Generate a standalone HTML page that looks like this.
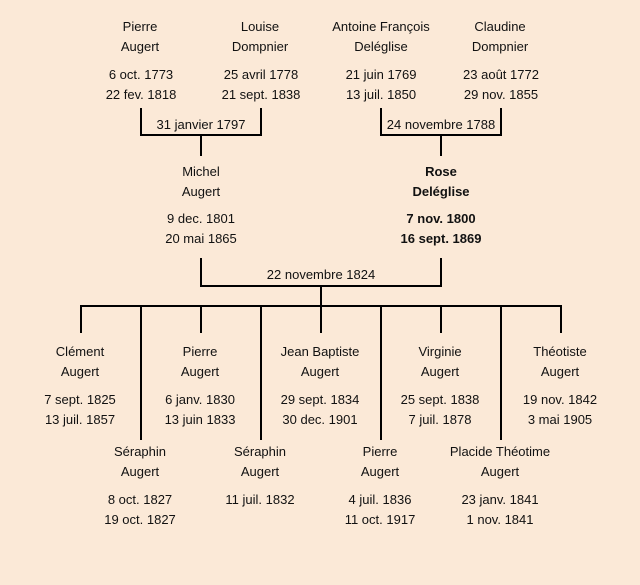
<!DOCTYPE html>
<html><head><meta charset="utf-8"><style>
body{margin:0;width:640px;height:585px;background:#fbe9d7;position:relative;overflow:hidden;font-family:"Comic Sans MS","Liberation Sans",sans-serif;font-size:13px;color:#111}
.t{position:absolute;transform:translateX(-50%);white-space:nowrap;line-height:20px;text-align:center}
.b{font-weight:bold}
svg{position:absolute;left:0;top:0}
</style></head><body>
<svg width="640" height="585"><g stroke="#000" stroke-width="2" fill="none">
<path d="M141 108V135H261V108M201 135V156"/>
<path d="M381 108V135H501V108M441 135V156"/>
<path d="M201 258V286H441V258M321 286V306M80 306H562"/>
<path d="M81 306V333M201 306V333M321 306V333M441 306V333M561 306V333"/>
<path d="M141 306V440M261 306V440M381 306V440M501 306V440"/>
</g></svg>
<div class="t" style="left:140px;top:17px">Pierre<br>Augert</div>
<div class="t" style="left:141px;top:65px">6 oct. 1773<br>22 fev. 1818</div>
<div class="t" style="left:260px;top:17px">Louise<br>Dompnier</div>
<div class="t" style="left:261px;top:65px">25 avril 1778<br>21 sept. 1838</div>
<div class="t" style="left:381px;top:17px">Antoine François<br>Deléglise</div>
<div class="t" style="left:381px;top:65px">21 juin 1769<br>13 juil. 1850</div>
<div class="t" style="left:500px;top:17px">Claudine<br>Dompnier</div>
<div class="t" style="left:501px;top:65px">23 août 1772<br>29 nov. 1855</div>
<div class="t" style="left:201px;top:115px">31 janvier 1797</div>
<div class="t" style="left:441px;top:115px">24 novembre 1788</div>
<div class="t" style="left:201px;top:162px">Michel<br>Augert</div>
<div class="t" style="left:201px;top:209px">9 dec. 1801<br>20 mai 1865</div>
<div class="t b" style="left:441px;top:162px">Rose<br>Deléglise</div>
<div class="t b" style="left:441px;top:209px">7 nov. 1800<br>16 sept. 1869</div>
<div class="t" style="left:321px;top:265px">22 novembre 1824</div>
<div class="t" style="left:80px;top:342px">Clément<br>Augert</div>
<div class="t" style="left:80px;top:390px">7 sept. 1825<br>13 juil. 1857</div>
<div class="t" style="left:200px;top:342px">Pierre<br>Augert</div>
<div class="t" style="left:200px;top:390px">6 janv. 1830<br>13 juin 1833</div>
<div class="t" style="left:320px;top:342px">Jean Baptiste<br>Augert</div>
<div class="t" style="left:320px;top:390px">29 sept. 1834<br>30 dec. 1901</div>
<div class="t" style="left:440px;top:342px">Virginie<br>Augert</div>
<div class="t" style="left:440px;top:390px">25 sept. 1838<br>7 juil. 1878</div>
<div class="t" style="left:560px;top:342px">Théotiste<br>Augert</div>
<div class="t" style="left:560px;top:390px">19 nov. 1842<br>3 mai 1905</div>
<div class="t" style="left:140px;top:442px">Séraphin<br>Augert</div>
<div class="t" style="left:140px;top:490px">8 oct. 1827<br>19 oct. 1827</div>
<div class="t" style="left:260px;top:442px">Séraphin<br>Augert</div>
<div class="t" style="left:260px;top:490px">11 juil. 1832</div>
<div class="t" style="left:380px;top:442px">Pierre<br>Augert</div>
<div class="t" style="left:380px;top:490px">4 juil. 1836<br>11 oct. 1917</div>
<div class="t" style="left:500px;top:442px">Placide Théotime<br>Augert</div>
<div class="t" style="left:500px;top:490px">23 janv. 1841<br>1 nov. 1841</div>
</body></html>
